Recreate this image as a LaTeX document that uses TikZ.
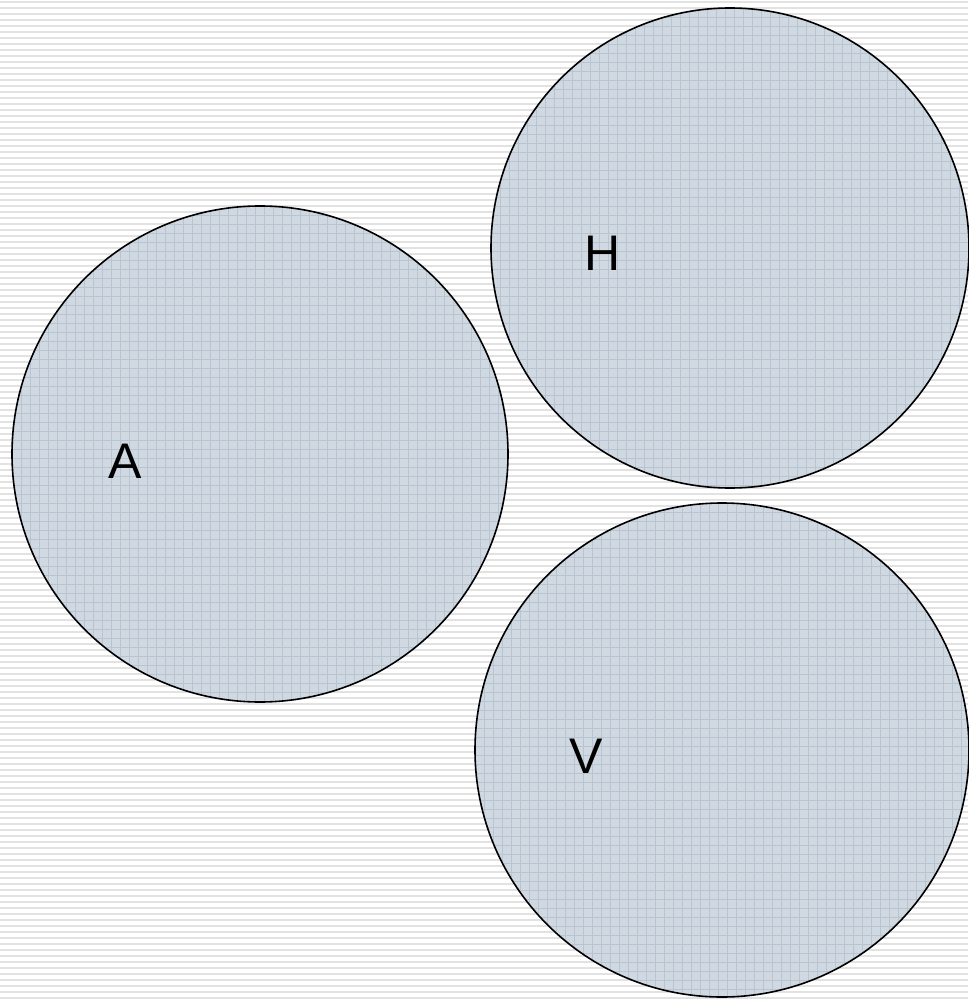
\documentclass[tikz,border=0pt]{standalone}
\usepackage{fontspec}
\setmainfont{Liberation Sans}
\definecolor{stripe}{HTML}{E2E2E2}
\definecolor{cfill}{HTML}{D0D8E2}
\definecolor{cgrid}{HTML}{B9C4D1}
\begin{document}
\begin{tikzpicture}[x=1pt,y=-1pt,
  ball/.style={draw=black,line width=1.6pt},
  lbl/.style={font=\fontsize{50}{60}\selectfont,inner sep=0pt,anchor=base}]
\useasboundingbox (0,0) rectangle (968,1000);
\fill[white] (0,0) rectangle (968,1000);
\foreach \y in {2,8,...,1000} \draw[stripe,line width=1.4pt] (0,\y) -- (968,\y);
\foreach \cx/\cy/\rx/\ry/\nm in {260/454/248/248/a,730/248/239/240/h,722/750/247/247/v}{
  \begin{scope}
    \clip (\cx,\cy) ellipse [x radius=\rx, y radius=\ry];
    \fill[cfill] (\cx-\rx,\cy-\ry) rectangle (\cx+\rx,\cy+\ry);
    \foreach \k in {0,9,...,500} {
      \draw[cgrid,line width=0.6pt] (\cx-\rx+\k,\cy-\ry) -- (\cx-\rx+\k,\cy+\ry);
      \draw[cgrid,line width=0.6pt] (\cx-\rx,\cy-\ry+\k) -- (\cx+\rx,\cy-\ry+\k);
    }
  \end{scope}
}
\draw[ball] (260,454) ellipse [x radius=248, y radius=248];
\draw[ball] (730,248) ellipse [x radius=239, y radius=240];
\draw[ball] (722,750) ellipse [x radius=247, y radius=247];
\node[lbl] (A) at (125,478) {A};
\node[lbl] (H) at (603,270) {H};
\node[lbl] (V) at (586,773) {V};
\end{tikzpicture}
\end{document}
